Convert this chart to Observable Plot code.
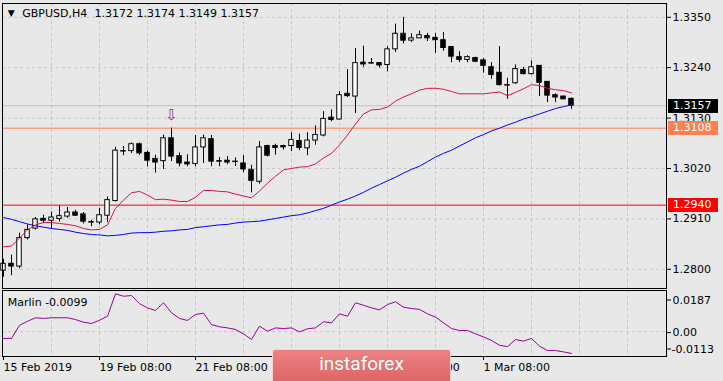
<!DOCTYPE html>
<html><head><meta charset="utf-8">
<script src="https://cdn.jsdelivr.net/npm/d3@7"></script>
<script src="https://cdn.jsdelivr.net/npm/@observablehq/plot@0.6"></script>
<style>
html,body{margin:0;padding:0;background:#e8e8e8;}
#chart{position:relative;width:723px;height:381px;overflow:hidden;background:#e8e8e8;font-family:"DejaVu Sans",sans-serif;}
#chart svg{position:absolute;left:0;}
.tag{position:absolute;left:668px;width:50px;height:14px;color:#fff;font:11px "DejaVu Sans";line-height:14px;padding-left:5px;box-sizing:border-box;}
#wm{position:absolute;left:272px;top:349px;width:179px;height:36px;border:1px solid rgba(255,235,235,0.8);border-radius:3px;box-sizing:border-box;
background:linear-gradient(#ee8282,#dc6262);color:#fff;font:19px Roboto,sans-serif;text-align:center;line-height:28px;}
</style></head><body><div id="chart"></div>
<script>
const symbol = "GBPUSD,H4";
const open = [1.2797,1.2812,1.2806,1.2868,1.2889,1.2910,1.2906,1.2910,1.2915,1.2924,
1.2920,1.2903,1.2902,1.2917,1.2949,1.3058,1.3058,1.3073,1.3054,1.3041,
1.3036,1.3086,1.3047,1.3033,1.3030,1.3066,1.3084,1.3036,1.3037,1.3035,
1.3031,1.3017,1.2991,1.3069,1.3069,1.3069,1.3069,1.3080,1.3064,1.3081,
1.3092,1.3131,1.3127,1.3183,1.3177,1.3251,1.3250,1.3250,1.3246,1.3280,
1.3314,1.3299,1.3304,1.3309,1.3305,1.3300,1.3285,1.3263,1.3257,1.3261,
1.3256,1.3241,1.3229,1.3202,1.3206,1.3235,1.3226,1.3244,1.3209,1.3180,
1.3177,1.3172];
const high = [1.2822,1.2831,1.2879,1.2897,1.2913,1.2918,1.2925,1.2938,1.2935,1.2929,
1.2924,1.2907,1.2933,1.2958,1.3066,1.3068,1.3076,1.3076,1.3058,1.3049,
1.3093,1.3108,1.3054,1.3050,1.3092,1.3093,1.3092,1.3044,1.3046,1.3043,
1.3048,1.3027,1.3079,1.3071,1.3073,1.3071,1.3098,1.3095,1.3098,1.3113,
1.3144,1.3148,1.3188,1.3236,1.3282,1.3287,1.3260,1.3250,1.3286,1.3335,
1.3350,1.3314,1.3320,1.3315,1.3315,1.3317,1.3286,1.3275,1.3266,1.3263,
1.3260,1.3251,1.3286,1.3217,1.3246,1.3241,1.3255,1.3244,1.3209,1.3183,
1.3178,1.3174];
const low = [1.2783,1.2786,1.2801,1.2864,1.2886,1.2900,1.2889,1.2903,1.2911,1.2916,
1.2899,1.2893,1.2897,1.2902,1.2947,1.3048,1.3053,1.3049,1.3024,1.3010,
1.3018,1.3035,1.3024,1.3024,1.3024,1.3031,1.3024,1.3024,1.3028,1.3024,
1.3011,1.2967,1.2986,1.3045,1.3049,1.3060,1.3057,1.3059,1.3048,1.3071,
1.3089,1.3122,1.3126,1.3175,1.3140,1.3241,1.3248,1.3239,1.3231,1.3273,
1.3292,1.3295,1.3304,1.3297,1.3271,1.3276,1.3251,1.3251,1.3251,1.3251,
1.3228,1.3215,1.3200,1.3171,1.3204,1.3224,1.3224,1.3177,1.3164,1.3164,
1.3170,1.3149];
const close = [1.2812,1.2806,1.2868,1.2886,1.2909,1.2906,1.2913,1.2916,1.2924,1.2917,
1.2904,1.2902,1.2918,1.2951,1.3059,1.3057,1.3073,1.3053,1.3037,1.3033,
1.3086,1.3046,1.3031,1.3029,1.3066,1.3086,1.3035,1.3035,1.3033,1.3034,
1.3018,1.2993,1.3066,1.3048,1.3065,1.3066,1.3082,1.3065,1.3081,1.3093,
1.3128,1.3126,1.3180,1.3178,1.3250,1.3247,1.3249,1.3245,1.3280,1.3314,
1.3299,1.3304,1.3311,1.3304,1.3300,1.3283,1.3264,1.3257,1.3263,1.3253,
1.3244,1.3224,1.3202,1.3201,1.3237,1.3226,1.3241,1.3207,1.3179,1.3175,
1.3171,1.3157];
const maRed = [1.2849,1.2851,1.2868,1.2886,1.2897,1.2902,1.2902,1.2900,1.2898,1.2895,
1.2889,1.2886,1.2887,1.2897,1.2933,1.2951,1.2967,1.2970,1.2962,1.2952,
1.2953,1.2951,1.2948,1.2948,1.2957,1.2972,1.2972,1.2970,1.2969,1.2964,
1.2960,1.2956,1.2971,1.2988,1.3003,1.3017,1.3020,1.3023,1.3024,1.3030,
1.3043,1.3053,1.3071,1.3093,1.3117,1.3139,1.3148,1.3149,1.3154,1.3167,
1.3176,1.3183,1.3191,1.3195,1.3195,1.3193,1.3188,1.3183,1.3183,1.3183,
1.3183,1.3185,1.3187,1.3179,1.3186,1.3194,1.3203,1.3201,1.3195,1.3192,
1.3190,1.3185];
const maBlue = [1.2913,1.2909,1.2904,1.2899,1.2895,1.2892,1.2889,1.2887,1.2885,1.2881,
1.2878,1.2876,1.2875,1.2873,1.2874,1.2876,1.2879,1.2880,1.2880,1.2881,
1.2883,1.2884,1.2886,1.2887,1.2891,1.2893,1.2895,1.2897,1.2898,1.2901,
1.2903,1.2904,1.2905,1.2908,1.2911,1.2914,1.2917,1.2919,1.2923,1.2928,
1.2933,1.2940,1.2947,1.2953,1.2960,1.2968,1.2977,1.2985,1.2993,1.3001,
1.3010,1.3018,1.3025,1.3035,1.3045,1.3053,1.3060,1.3069,1.3078,1.3087,
1.3094,1.3102,1.3108,1.3115,1.3121,1.3128,1.3133,1.3139,1.3145,1.3151,
1.3155,1.3159];
const marlin = [-0.0031,-0.0031,0.0029,0.0047,0.0063,0.0060,0.0063,0.0063,0.0063,0.0055,
0.0043,0.0037,0.0052,0.0070,0.0172,0.0161,0.0164,0.0127,0.0108,0.0096,
0.0131,0.0086,0.0060,0.0051,0.0078,0.0084,0.0032,0.0022,0.0017,0.0010,
-0.0010,-0.0036,0.0025,0.0002,0.0017,0.0014,0.0017,-0.0001,0.0013,0.0017,
0.0045,0.0040,0.0081,0.0070,0.0131,0.0120,0.0108,0.0099,0.0123,0.0136,
0.0111,0.0105,0.0101,0.0081,0.0066,0.0040,0.0014,0.0005,0.0005,-0.0010,
-0.0024,-0.0040,-0.0062,-0.0068,-0.0036,-0.0043,-0.0031,-0.0066,-0.0086,-0.0086,
-0.0092,-0.0099];
const priceTicks = [1.2800, 1.2910, 1.3020, 1.3130, 1.3240, 1.3350];
const levelOrange = 1.3108;
const levelRed = 1.2940;
const signalIdx = 21;
const timeTickIdx = [0, 12, 24, 36, 48, 60];
const timeTickLabels = ["15 Feb 2019", "19 Feb 08:00", "21 Feb 08:00", "25 Feb 08:00", "27 Feb 08:00", "1 Mar 08:00"];
const marlinTicks = [0.0187, 0, -0.0113];
const marlinTickLabels = ["0.0187", "0.00", "-0.0113"];

const n = close.length;
const last = n - 1;
const candles = d3.range(n).map(i => ({i, o: open[i], h: high[i], l: low[i], c: close[i]}));
const gridIdx = d3.range(6, 83, 6);
const grid = {stroke: "#c6c6c6", strokeDasharray: "3,3"};
const xDomain = [-0.125, 82.875];
const fmt = v => v.toFixed(4);
const baseStyle = {background: "transparent", color: "black", fontFamily: "DejaVu Sans", fontSize: "11px"};

const main = Plot.plot({
  width: 723, height: 290,
  marginLeft: 2, marginRight: 57, marginTop: 3, marginBottom: 2,
  x: {domain: xDomain, axis: null},
  y: {domain: [1.27581, 1.33801], axis: null},
  style: baseStyle,
  marks: [
    Plot.ruleY(priceTicks, grid),
    Plot.ruleX(gridIdx, grid),
    Plot.ruleY([close[last]], {stroke: "#c0c0c0"}),
    Plot.ruleY([levelOrange], {stroke: "#ff7f50"}),
    Plot.ruleY([levelRed], {stroke: "#ff0000"}),
    Plot.ruleX(candles, {x: "i", y1: "l", y2: "h", stroke: "black"}),
    Plot.rect(candles, {x1: d => d.i - 0.28, x2: d => d.i + 0.28, y1: "o", y2: "c",
      fill: d => d.c > d.o ? "white" : "black", stroke: "black"}),
    Plot.line(maRed, {x: (d, i) => i, y: d => d, stroke: "#dc143c", strokeWidth: 1}),
    Plot.line(maBlue, {x: (d, i) => i, y: d => d, stroke: "#0000ff", strokeWidth: 1}),
    Plot.text([signalIdx], {x: d => d, y: d => high[d], text: () => "⇩", dy: -13, fill: "#a020a0", fontSize: 15}),
    Plot.axisY({anchor: "right", ticks: priceTicks, tickFormat: fmt, tickSize: 4, tickPadding: 2, label: null}),
    Plot.frame({stroke: "black"}),
    Plot.text(["▼"], {frameAnchor: "top-left", dx: 8.8, dy: 9.5, textAnchor: "middle", lineAnchor: "middle", fontSize: 9}),
    Plot.text([symbol], {frameAnchor: "top-left", dx: 19.7, dy: 6, textAnchor: "start", lineAnchor: "top"}),
    Plot.text([[open[last], high[last], low[last], close[last]].map(fmt).join(" ")],
      {frameAnchor: "top-left", dx: 92, dy: 6, textAnchor: "start", lineAnchor: "top"})
  ]
});

const lower = Plot.plot({
  width: 723, height: 91,
  marginLeft: 2, marginRight: 57, marginTop: 0, marginBottom: 25,
  x: {domain: xDomain, axis: null},
  y: {domain: [-0.0113, 0.0187], axis: null},
  style: baseStyle,
  marks: [
    Plot.ruleX(gridIdx, grid),
    Plot.ruleY([0], grid),
    Plot.line(marlin, {x: (d, i) => i, y: d => d, stroke: "#990099", strokeWidth: 1}),
    Plot.frame({stroke: "black"}),
    Plot.axisY({anchor: "right", ticks: [marlinTicks[0]], tickFormat: () => marlinTickLabels[0], dy: 9.5, tickSize: 4, tickPadding: 2, label: null}),
    Plot.axisY({anchor: "right", ticks: [marlinTicks[1]], tickFormat: () => marlinTickLabels[1], dy: 1, tickSize: 4, tickPadding: 2, label: null}),
    Plot.axisY({anchor: "right", ticks: [marlinTicks[2]], tickFormat: () => marlinTickLabels[2], dy: -7.5, tickSize: 4, tickPadding: 1, label: null}),
    Plot.axisX({anchor: "bottom", ticks: timeTickIdx, tickFormat: d => timeTickLabels[timeTickIdx.indexOf(d)],
      textAnchor: "start", tickSize: 4, tickPadding: 3, label: null}),
    Plot.text(["Marlin " + marlin[last].toFixed(4)], {frameAnchor: "top-left", dx: 5.3, dy: 7.9, textAnchor: "start", lineAnchor: "top"})
  ]
});

const chart = document.getElementById("chart");
main.style.top = "0px";
lower.style.top = "290px";
chart.appendChild(main);
chart.appendChild(lower);

const ys = main.scale("y");
[[close[last], "#000000"], [levelOrange, "#ff7f50"], [levelRed, "#ff0000"]].forEach(([v, col]) => {
  const t = document.createElement("div");
  t.className = "tag";
  t.style.background = col;
  t.style.top = (ys.apply(v) + 0.5 - 7) + "px";
  t.textContent = fmt(v);
  chart.appendChild(t);
});

const wm = document.createElement("div");
wm.id = "wm";
wm.textContent = "instaforex";
chart.appendChild(wm);
</script></body></html>
